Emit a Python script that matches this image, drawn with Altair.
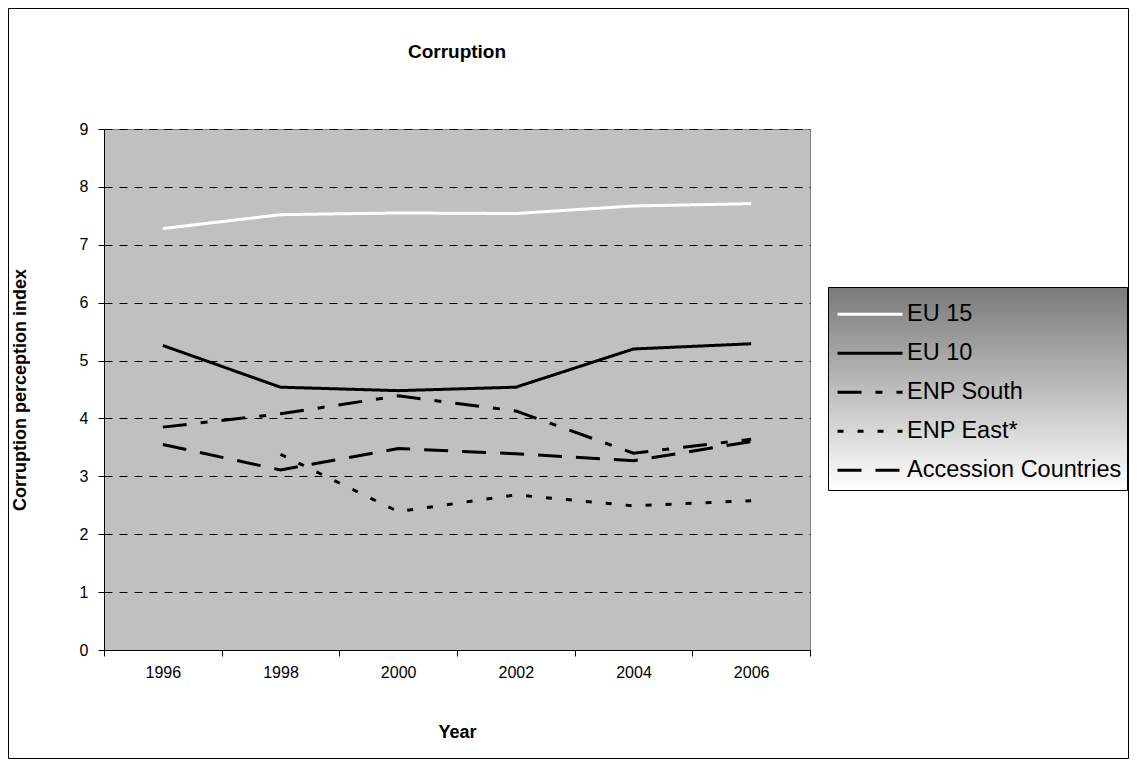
import altair as alt
import pandas as pd

years = ["1996", "1998", "2000", "2002", "2004", "2006"]
series_names = ["EU 15", "EU 10", "ENP South", "ENP East*", "Accession Countries"]
eu15 = [7.28, 7.52, 7.55, 7.54, 7.67, 7.71]
eu10 = [5.26, 4.54, 4.48, 4.54, 5.20, 5.29]
enp_south = [3.85, 4.08, 4.39, 4.13, 3.40, 3.64]
enp_east = [None, 3.38, 2.39, 2.68, 2.49, 2.58]
accession = [3.55, 3.11, 3.48, 3.39, 3.27, 3.60]

values = [eu15, eu10, enp_south, enp_east, accession]
rows = []
for name, vals in zip(series_names, values):
    for i, (y, v) in enumerate(zip(years, vals)):
        if v is not None:
            rows.append({"Year": y, "Series": name, "Value": v, "order": i})
df = pd.DataFrame(rows)

FONT = "Liberation Sans"
W, H = 706, 521
PL, PT = 96, 121
TOTW, TOTH = 1121, 751

color_scale = alt.Scale(domain=series_names,
                        range=["#ffffff", "#000000", "#000000", "#000000", "#000000"])
dash_scale = alt.Scale(domain=series_names,
                       range=[[1, 0], [1, 0], [24, 14, 7, 14], [6, 14], [24, 14]])

legend = alt.Legend(
    title=None, orient="none", legendX=732, legendY=166,
    symbolType="stroke", symbolSize=4225, symbolStrokeWidth=3,
    labelFont=FONT, labelFontSize=23.5, labelColor="black", labelOffset=3,
    labelLimit=300,
    padding=0, rowPadding=0, clipHeight=38.5, zindex=1,
)

lines = alt.Chart(df).mark_line(strokeWidth=3, strokeCap="butt").encode(
    x=alt.X("Year:N", sort=years, bandPosition=0.5,
            scale=alt.Scale(type="band", paddingInner=0, paddingOuter=0),
            axis=alt.Axis(title="Year", labelAngle=0, tickBand="extent", tickSize=6,
                          labelPadding=8, titlePadding=43)),
    y=alt.Y("Value:Q", scale=alt.Scale(domain=[0, 9], nice=False),
            axis=alt.Axis(title="Corruption perception index", values=list(range(10)),
                          tickSize=6, labelPadding=10, titlePadding=50,
                          grid=True, gridColor="black", gridDash=[8, 7], gridWidth=1)),
    color=alt.Color("Series:N", scale=color_scale, sort=series_names, legend=legend),
    strokeDash=alt.StrokeDash("Series:N", scale=dash_scale, sort=series_names, legend=legend),
    order="order:Q",
)

one = pd.DataFrame({"a": [0]})
outer = alt.Chart(one).mark_rect(fill=None, stroke="black", strokeWidth=1).encode(
    x=alt.value(-PL + 0.5), x2=alt.value(TOTW - PL - 0.5),
    y=alt.value(-PT + 0.5), y2=alt.value(TOTH - PT - 0.5),
)
legend_box = alt.Chart(one).mark_rect(
    stroke="black", strokeWidth=1,
    fill=alt.Gradient(gradient="linear", x1=0, y1=0, x2=0, y2=1,
                      stops=[alt.GradientStop(color="#7a7a7a", offset=0),
                             alt.GradientStop(color="#ffffff", offset=1)]),
).encode(
    x=alt.value(724.5), x2=alt.value(1023.5), y=alt.value(158.5), y2=alt.value(361.5),
)

chart = alt.layer(outer, legend_box, lines).properties(
    width=W, height=H,
    background="white",
    autosize=alt.AutoSizeParams(type="none"),
    padding={"left": PL, "top": PT, "right": TOTW - PL - W, "bottom": TOTH - PT - H},
    title=alt.TitleParams("Corruption", font=FONT, fontSize=19, fontWeight="bold",
                          color="black", anchor="middle", frame="group", offset=0, dy=54),
).configure_view(fill="#c0c0c0", stroke="#808080", strokeWidth=1).configure_axis(
    labelFont=FONT, labelFontSize=16, labelColor="black",
    titleFont=FONT, titleFontSize=18, titleFontWeight="bold", titleColor="black",
    domainColor="black", tickColor="black", domainWidth=1, tickWidth=1,
)

chart.save("out.html", embed_options={"renderer": "svg", "actions": False})
